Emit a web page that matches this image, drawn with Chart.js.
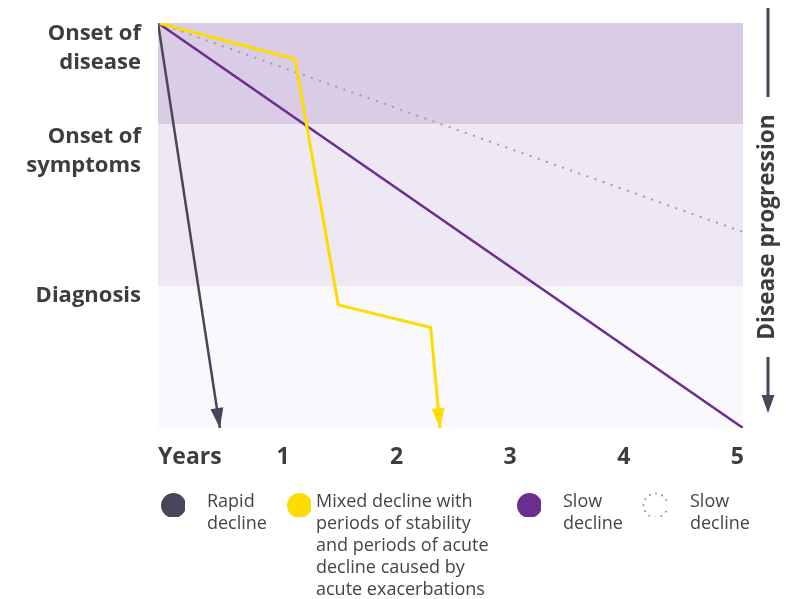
<!DOCTYPE html>
<html>
<head>
<meta charset="utf-8">
<script src="https://cdn.jsdelivr.net/npm/chart.js@4/dist/chart.umd.min.js"></script>
<style>
  html, body { margin: 0; padding: 0; background: #ffffff; }
  #wrap { position: relative; width: 787px; height: 599px; overflow: hidden; }
  #c { position: absolute; left: 0; top: 0; }
  .legText { position: absolute; font-family: 'Open Sans', 'Noto Sans', sans-serif; font-size: 18px; line-height: 22px; color: #454545; white-space: nowrap; }
  .legDot { position: absolute; width: 25px; height: 25px; }
</style>
</head>
<body>
<div id="wrap">
  <canvas id="c" width="787" height="599"></canvas>
  <div id="legend"></div>
</div>
<script>
// ---- Data ----
const yearTickValues = [0.18, 1, 2, 3, 4, 5];
const yearTickLabels = ['Years', '1', '2', '3', '4', '5'];

const stageTickValues = [6.2, 31.7, 67.4];
const stageTickLabels = [['Onset of', 'disease'], ['Onset of', 'symptoms'], ['Diagnosis']];

const bandEdges = [0, 25, 65, 100];
const bandColors = ['#d9cce4', '#eee8f5', '#f9f8fc'];

const seriesNames = ['Rapid decline',
  'Mixed decline with periods of stability and periods of acute decline caused by acute exacerbations',
  'Slow decline', 'Slow decline'];
const legendLines = [
  ['Rapid', 'decline'],
  ['Mixed decline with', 'periods of stability', 'and periods of acute', 'decline caused by', 'acute exacerbations'],
  ['Slow', 'decline'],
  ['Slow', 'decline']
];

const rapidX = [-0.1, 0.445];
const rapidY = [0, 100];
const mixedX = [-0.1, 1.106, 1.487, 2.301, 2.383];
const mixedY = [0, 8.9, 69.6, 75.2, 100];
const slowX = [-0.1, 5.05];
const slowY = [0, 100];
const slowDottedX = [-0.1, 5.05];
const slowDottedY = [0, 51.6];

const axisTitle = 'Disease progression';

// ---- helpers ----
const pts = (xs, ys) => xs.map((x, i) => ({ x: x, y: ys[i] }));
const FONT = "'Open Sans', 'Noto Sans', sans-serif";
const TEXT = '#3d3d3d';
const DARK = '#48465a';

const bandsPlugin = {
  id: 'bands',
  beforeDatasetsDraw(chart) {
    const { ctx, chartArea: a, scales: { y } } = chart;
    ctx.save();
    for (let i = 0; i < bandColors.length; i++) {
      const y0 = y.getPixelForValue(bandEdges[i]);
      const y1 = y.getPixelForValue(bandEdges[i + 1]);
      ctx.fillStyle = bandColors[i];
      ctx.fillRect(a.left, y0, a.right - a.left, y1 - y0);
    }
    ctx.restore();
  }
};

const arrowPlugin = {
  id: 'arrows',
  afterDatasetsDraw(chart) {
    const ctx = chart.ctx;
    chart.data.datasets.forEach((ds, i) => {
      if (!ds.arrow) return;
      const d = chart.getDatasetMeta(i).data;
      const p1 = d[d.length - 2], p2 = d[d.length - 1];
      const ang = Math.atan2(p2.y - p1.y, p2.x - p1.x);
      const len = 20, hw = 6.5;
      ctx.save();
      ctx.translate(p2.x, p2.y);
      ctx.rotate(ang);
      ctx.beginPath();
      ctx.moveTo(0, 0);
      ctx.lineTo(-len, -hw);
      ctx.lineTo(-len, hw);
      ctx.closePath();
      ctx.fillStyle = ds.borderColor;
      ctx.fill();
      ctx.restore();
    });
  }
};

const sideTitlePlugin = {
  id: 'sideTitle',
  afterDraw(chart) {
    const ctx = chart.ctx;
    const x = 768;
    ctx.save();
    ctx.strokeStyle = DARK;
    ctx.fillStyle = DARK;
    ctx.lineWidth = 3;
    ctx.beginPath();
    ctx.moveTo(x, 8); ctx.lineTo(x, 97);
    ctx.moveTo(x, 357); ctx.lineTo(x, 397);
    ctx.stroke();
    ctx.beginPath();
    ctx.moveTo(x, 413); ctx.lineTo(x - 6.5, 395); ctx.lineTo(x + 6.5, 395);
    ctx.closePath(); ctx.fill();
    ctx.translate(x, 227);
    ctx.rotate(-Math.PI / 2);
    ctx.font = 'bold 22.6px ' + FONT;
    ctx.fillStyle = TEXT;
    ctx.textAlign = 'center';
    ctx.textBaseline = 'middle';
    ctx.fillText(axisTitle, 0, 0);
    ctx.restore();
  }
};

const chart = new Chart(document.getElementById('c'), {
  type: 'line',
  data: {
    datasets: [
      { label: seriesNames[0], data: pts(rapidX, rapidY), borderColor: DARK, borderWidth: 2.5, pointRadius: 0, arrow: true, order: 1 },
      { label: seriesNames[1], data: pts(mixedX, mixedY), borderColor: '#ffdc00', borderWidth: 3, pointRadius: 0, arrow: true, order: 2 },
      { label: seriesNames[2], data: pts(slowX, slowY), borderColor: '#6b2e8f', borderWidth: 2.5, pointRadius: 0, order: 3 },
      { label: seriesNames[3], data: pts(slowDottedX, slowDottedY), borderColor: '#a09ca6', borderWidth: 2.2, borderDash: [0.1, 8.5], borderCapStyle: 'round', pointRadius: 0, order: 4 }
    ]
  },
  options: {
    responsive: false,
    animation: false,
    events: [],
    layout: { padding: { top: 23, right: 44, left: 0, bottom: 0 } },
    plugins: { legend: { display: false }, tooltip: { enabled: false } },
    scales: {
      x: {
        type: 'linear', min: -0.1, max: 5.05,
        border: { display: false },
        grid: { display: false, drawTicks: false },
        afterBuildTicks: s => { s.ticks = yearTickValues.map(v => ({ value: v })); },
        afterFit: s => { s.height = 171; s.paddingLeft = 0; s.paddingRight = 0; },
        ticks: {
          autoSkip: false, maxRotation: 0, padding: 16, color: TEXT,
          font: { family: FONT, size: 23, weight: 'bold' },
          callback: (v, i) => yearTickLabels[i]
        }
      },
      y: {
        type: 'linear', min: 0, max: 100, reverse: true,
        border: { display: false },
        grid: { display: false, drawTicks: false },
        afterBuildTicks: s => { s.ticks = stageTickValues.map(v => ({ value: v })); },
        afterFit: s => { s.width = 158; s.paddingTop = 0; s.paddingBottom = 0; },
        ticks: {
          autoSkip: false, padding: 17, color: TEXT,
          font: { family: FONT, size: 22, weight: 'bold', lineHeight: 1.32 },
          callback: (v, i) => stageTickLabels[i]
        }
      }
    }
  },
  plugins: [bandsPlugin, arrowPlugin, sideTitlePlugin]
});

// ---- HTML legend built from the datasets ----
const legendDotX = [173, 299, 529, 655];
const legendTextX = [207, 316, 563, 690];
const legend = document.getElementById('legend');
chart.data.datasets.forEach((ds, i) => {
  const dot = document.createElementNS('http://www.w3.org/2000/svg', 'svg');
  dot.setAttribute('class', 'legDot');
  dot.setAttribute('width', '27'); dot.setAttribute('height', '27');
  dot.style.left = (legendDotX[i] - 13.5) + 'px';
  dot.style.top = (505 - 13.5) + 'px';
  const c = document.createElementNS('http://www.w3.org/2000/svg', 'circle');
  c.setAttribute('cx', '13.5'); c.setAttribute('cy', '13.5');
  if (ds.borderDash) {
    c.setAttribute('r', '12');
    c.setAttribute('fill', 'none');
    c.setAttribute('stroke', ds.borderColor);
    c.setAttribute('stroke-width', '2');
    c.setAttribute('stroke-dasharray', '0.1 6.2');
    c.setAttribute('stroke-linecap', 'round');
  } else {
    c.setAttribute('r', '12.5');
    c.setAttribute('fill', ds.borderColor);
  }
  dot.appendChild(c);
  legend.appendChild(dot);
  const t = document.createElement('div');
  t.className = 'legText';
  t.style.left = legendTextX[i] + 'px';
  t.style.top = '489px';
  t.innerHTML = legendLines[i].join('<br>');
  legend.appendChild(t);
});
</script>
</body>
</html>
